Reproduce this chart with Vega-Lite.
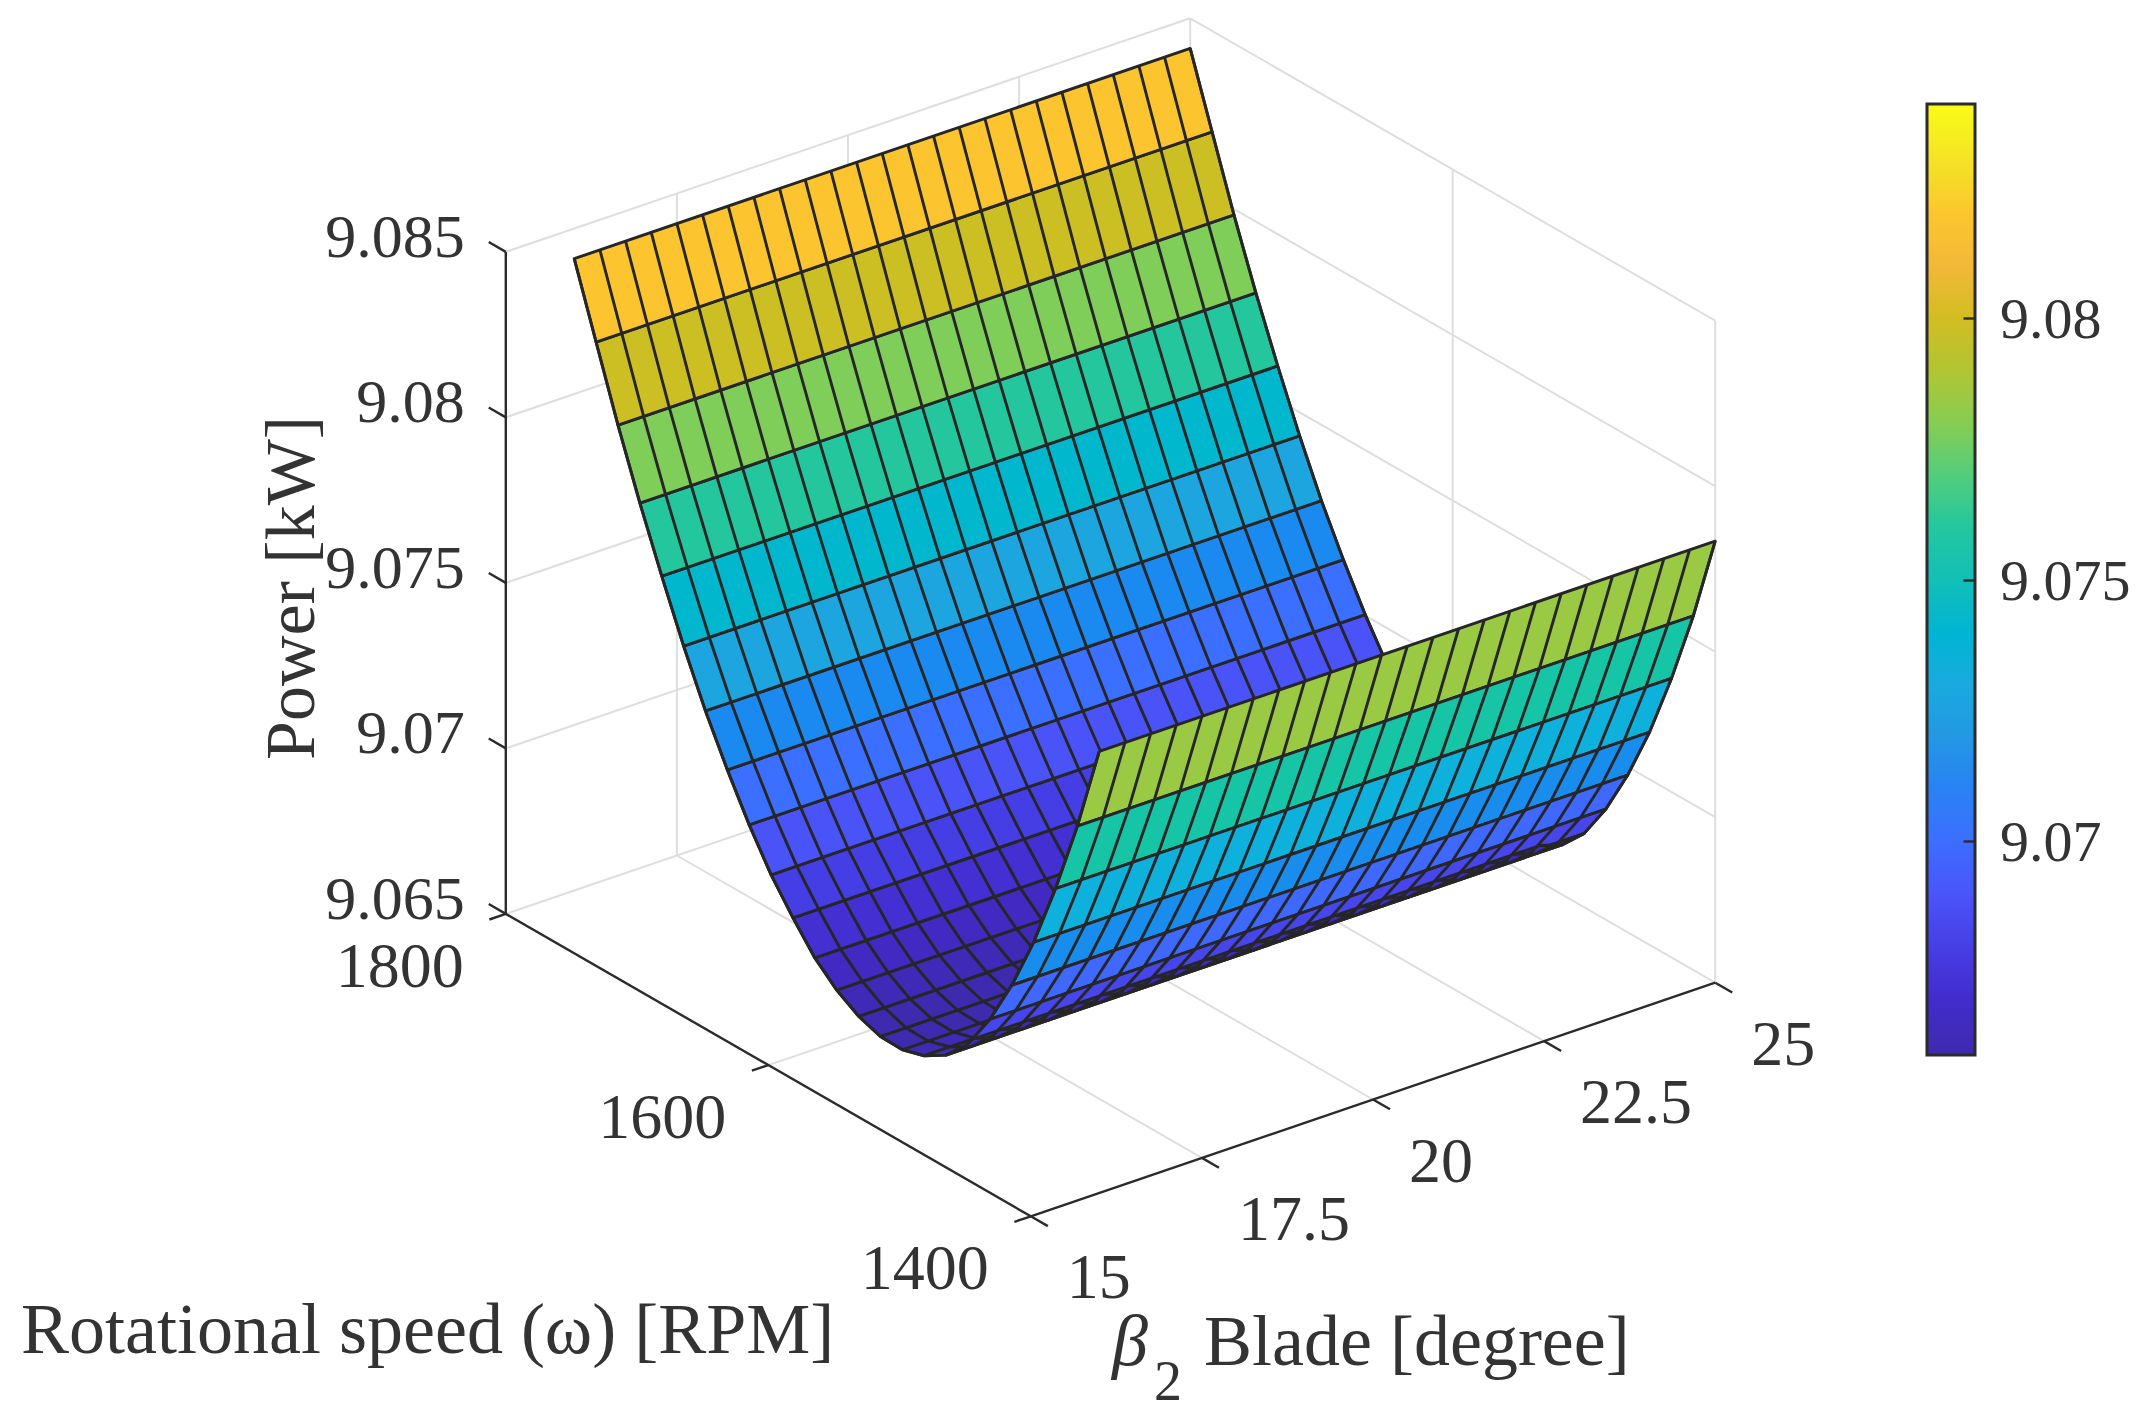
{"$schema":"https://vega.github.io/schema/vega-lite/v6.json","width":2155,"height":1427,"padding":0,"autosize":{"type":"none"},"background":"white","config":{"view":{"stroke":null},"text":{"font":"Liberation Serif","color":"#333333"}},
"resolve":{"scale":{"y":"independent"},"axis":{"y":"independent"}},
"datasets":{
"omegaNodes":[
{"grid":1,"omega":1400,"power":9.07834},{"grid":1,"omega":1416.67,"power":9.0757},{"grid":1,"omega":1433.33,"power":9.07343},{"grid":1,"omega":1450,"power":9.07143},{"grid":1,"omega":1466.67,"power":9.06975},{"grid":1,"omega":1483.33,"power":9.06834},{"grid":1,"omega":1500,"power":9.06722},{"grid":1,"omega":1516.67,"power":9.0665},{"grid":1,"omega":1533.33,"power":9.0661},{"grid":1,"omega":1550,"power":9.0659},{"grid":1,"omega":1566.67,"power":9.06592},{"grid":1,"omega":1583.33,"power":9.06615},{"grid":1,"omega":1600,"power":9.06656},{"grid":1,"omega":1616.67,"power":9.06715},{"grid":1,"omega":1633.33,"power":9.06798},{"grid":1,"omega":1650,"power":9.0689},{"grid":1,"omega":1666.67,"power":9.07003},{"grid":1,"omega":1683.33,"power":9.07131},{"grid":1,"omega":1700,"power":9.07271},{"grid":1,"omega":1716.67,"power":9.07429},{"grid":1,"omega":1733.33,"power":9.07602},{"grid":1,"omega":1750,"power":9.07785},{"grid":1,"omega":1766.67,"power":9.07982},{"grid":1,"omega":1783.33,"power":9.08195},{"grid":1,"omega":1800,"power":9.08409}],
"betaGrid":[{"grid":1,"beta":[16,16.375,16.75,17.125,17.5,17.875,18.25,18.625,19,19.375,19.75,20.125,20.5,20.875,21.25,21.625,22,22.375,22.75,23.125,23.5,23.875,24.25,24.625,25]}],
"corners":[{"grid":1,"corner":[0,1,2,3,4]}],
"gridLines":[
{"beta":15,"omega":1800,"power":9.065,"beta2":25,"omega2":1800,"power2":9.065},{"beta":15,"omega":1800,"power":9.07,"beta2":25,"omega2":1800,"power2":9.07},{"beta":15,"omega":1800,"power":9.075,"beta2":25,"omega2":1800,"power2":9.075},{"beta":15,"omega":1800,"power":9.08,"beta2":25,"omega2":1800,"power2":9.08},{"beta":15,"omega":1800,"power":9.085,"beta2":25,"omega2":1800,"power2":9.085},
{"beta":17.5,"omega":1800,"power":9.065,"beta2":17.5,"omega2":1800,"power2":9.085},{"beta":20,"omega":1800,"power":9.065,"beta2":20,"omega2":1800,"power2":9.085},{"beta":22.5,"omega":1800,"power":9.065,"beta2":22.5,"omega2":1800,"power2":9.085},{"beta":25,"omega":1800,"power":9.065,"beta2":25,"omega2":1800,"power2":9.085},
{"beta":25,"omega":1400,"power":9.065,"beta2":25,"omega2":1800,"power2":9.065},{"beta":25,"omega":1400,"power":9.07,"beta2":25,"omega2":1800,"power2":9.07},{"beta":25,"omega":1400,"power":9.075,"beta2":25,"omega2":1800,"power2":9.075},{"beta":25,"omega":1400,"power":9.08,"beta2":25,"omega2":1800,"power2":9.08},{"beta":25,"omega":1400,"power":9.085,"beta2":25,"omega2":1800,"power2":9.085},
{"beta":25,"omega":1400,"power":9.065,"beta2":25,"omega2":1400,"power2":9.085},{"beta":25,"omega":1600,"power":9.065,"beta2":25,"omega2":1600,"power2":9.085},
{"beta":17.5,"omega":1400,"power":9.065,"beta2":17.5,"omega2":1800,"power2":9.065},{"beta":20,"omega":1400,"power":9.065,"beta2":20,"omega2":1800,"power2":9.065},{"beta":22.5,"omega":1400,"power":9.065,"beta2":22.5,"omega2":1800,"power2":9.065},
{"beta":15,"omega":1600,"power":9.065,"beta2":25,"omega2":1600,"power2":9.065}],
"axisLines":[
{"beta":15,"omega":1800,"power":9.065,"beta2":15,"omega2":1800,"power2":9.085},{"beta":15,"omega":1400,"power":9.065,"beta2":15,"omega2":1800,"power2":9.065},{"beta":15,"omega":1400,"power":9.065,"beta2":25,"omega2":1400,"power2":9.065},
{"beta":15,"omega":1800,"power":9.065,"beta2":15,"omega2":1813,"power2":9.065},{"beta":15,"omega":1800,"power":9.07,"beta2":15,"omega2":1813,"power2":9.07},{"beta":15,"omega":1800,"power":9.075,"beta2":15,"omega2":1813,"power2":9.075},{"beta":15,"omega":1800,"power":9.08,"beta2":15,"omega2":1813,"power2":9.08},{"beta":15,"omega":1800,"power":9.085,"beta2":15,"omega2":1813,"power2":9.085},
{"beta":15,"omega":1400,"power":9.065,"beta2":14.76,"omega2":1400,"power2":9.065},{"beta":15,"omega":1600,"power":9.065,"beta2":14.76,"omega2":1600,"power2":9.065},{"beta":15,"omega":1800,"power":9.065,"beta2":14.76,"omega2":1800,"power2":9.065},
{"beta":15,"omega":1400,"power":9.065,"beta2":15,"omega2":1387,"power2":9.065},{"beta":17.5,"omega":1400,"power":9.065,"beta2":17.5,"omega2":1387,"power2":9.065},{"beta":20,"omega":1400,"power":9.065,"beta2":20,"omega2":1387,"power2":9.065},{"beta":22.5,"omega":1400,"power":9.065,"beta2":22.5,"omega2":1387,"power2":9.065},{"beta":25,"omega":1400,"power":9.065,"beta2":25,"omega2":1387,"power2":9.065}]
},
"encoding":{"x":{"field":"px","type":"quantitative","axis":null,"scale":{"domain":[0,2155],"nice":false,"zero":false}},"y":{"field":"py","type":"quantitative","axis":null,"scale":{"domain":[1427,0],"nice":false,"zero":false}}},
"layer":[
{"data":{"name":"gridLines"},"transform":[
{"calculate":"1030.8+(datum.beta-15)*68.44-(datum.omega-1400)*1.3125","as":"px"},{"calculate":"1216.3-(datum.beta-15)*23.36-(datum.omega-1400)*0.756-(datum.power-9.065)*33100","as":"py"},
{"calculate":"1030.8+(datum.beta2-15)*68.44-(datum.omega2-1400)*1.3125","as":"px2"},{"calculate":"1216.3-(datum.beta2-15)*23.36-(datum.omega2-1400)*0.756-(datum.power2-9.065)*33100","as":"py2"}],
"mark":{"type":"rule","stroke":"#dedede","strokeWidth":2},"encoding":{"x2":{"field":"px2"},"y2":{"field":"py2"}}},
{"data":{"name":"axisLines"},"transform":[
{"calculate":"1030.8+(datum.beta-15)*68.44-(datum.omega-1400)*1.3125","as":"px"},{"calculate":"1216.3-(datum.beta-15)*23.36-(datum.omega-1400)*0.756-(datum.power-9.065)*33100","as":"py"},
{"calculate":"1030.8+(datum.beta2-15)*68.44-(datum.omega2-1400)*1.3125","as":"px2"},{"calculate":"1216.3-(datum.beta2-15)*23.36-(datum.omega2-1400)*0.756-(datum.power2-9.065)*33100","as":"py2"}],
"mark":{"type":"rule","stroke":"#2b2b2b","strokeWidth":2.4},"encoding":{"x2":{"field":"px2"},"y2":{"field":"py2"}}},
{"data":{"name":"omegaNodes"},"transform":[
{"window":[{"op":"lead","field":"omega","as":"omegaUp"},{"op":"lead","field":"power","as":"powerUp"}],"sort":[{"field":"omega","order":"ascending"}]},
{"filter":"isValid(datum.omegaUp) && datum.omega>=1533"},
{"lookup":"grid","from":{"data":{"name":"corners"},"key":"grid","fields":["corner"]}},{"flatten":["corner"]},
{"calculate":"datum.corner==1||datum.corner==2?25:16","as":"b"},{"calculate":"datum.corner==2||datum.corner==3?datum.omegaUp:datum.omega","as":"w"},{"calculate":"datum.corner==2||datum.corner==3?datum.powerUp:datum.power","as":"z"},
{"calculate":"1030.8+(datum.b-15)*68.44-(datum.w-1400)*1.3125","as":"px"},{"calculate":"1216.3-(datum.b-15)*23.36-(datum.w-1400)*0.756-(datum.z-9.065)*33100","as":"py"}],
"mark":{"type":"line","stroke":"#262626","strokeWidth":2.9,"strokeJoin":"round"},
"encoding":{"detail":{"field":"omega"},"order":{"field":"corner","type":"ordinal"},"fill":{"field":"power","type":"quantitative","scale":{"domain":[9.0659,9.06674,9.06772,9.06899,9.07009,9.07091,9.07216,9.07325,9.0744,9.075,9.07689,9.07753,9.07846,9.08001,9.08106,9.08168,9.08228,9.08326,9.0841],"range":["#3d2aae","#4228c8","#4538e0","#4a55fa","#3b70ff","#2e80f5","#2b9be0","#19aede","#03b8cb","#12bfb7","#4ecc80","#6dd068","#a0c83f","#d2bd22","#f5b83a","#fdbb35","#fad028","#f3e826","#f8fb15"]},"legend":{"title":null,"orient":"none","legendX":1927,"legendY":104,"gradientLength":951,"gradientThickness":48,"gradientStrokeColor":"#2b2b2b","gradientStrokeWidth":3,"values":[9.07,9.075,9.08],"format":".4~r","labelFont":"Liberation Serif","labelFontSize":58,"labelColor":"#333333","labelOffset":25,"labelOverlap":false,"encode":{"labels":{"update":{"dy":{"value":3}}}}}}}},
{"data":{"name":"omegaNodes"},"transform":[{"filter":"datum.omega>=1533"},{"lookup":"grid","from":{"data":{"name":"betaGrid"},"key":"grid","fields":["beta"]}},{"flatten":["beta"]},
{"calculate":"1030.8+(datum.beta-15)*68.44-(datum.omega-1400)*1.3125","as":"px"},{"calculate":"1216.3-(datum.beta-15)*23.36-(datum.omega-1400)*0.756-(datum.power-9.065)*33100","as":"py"}],
"mark":{"type":"line","stroke":"#262626","strokeWidth":2.9},"encoding":{"detail":{"field":"beta"},"order":{"field":"omega","type":"quantitative"}}},
{"data":{"name":"omegaNodes"},"transform":[
{"window":[{"op":"lead","field":"omega","as":"omegaUp"},{"op":"lead","field":"power","as":"powerUp"}],"sort":[{"field":"omega","order":"ascending"}]},
{"filter":"isValid(datum.omegaUp) && datum.omega<1533"},
{"lookup":"grid","from":{"data":{"name":"corners"},"key":"grid","fields":["corner"]}},{"flatten":["corner"]},
{"calculate":"datum.corner==1||datum.corner==2?25:16","as":"b"},{"calculate":"datum.corner==2||datum.corner==3?datum.omegaUp:datum.omega","as":"w"},{"calculate":"datum.corner==2||datum.corner==3?datum.powerUp:datum.power","as":"z"},
{"calculate":"1030.8+(datum.b-15)*68.44-(datum.w-1400)*1.3125","as":"px"},{"calculate":"1216.3-(datum.b-15)*23.36-(datum.w-1400)*0.756-(datum.z-9.065)*33100","as":"py"}],
"mark":{"type":"line","stroke":"#262626","strokeWidth":2.9,"strokeJoin":"round"},
"encoding":{"detail":{"field":"omega"},"order":{"field":"corner","type":"ordinal"},"fill":{"field":"power","type":"quantitative"}}},
{"data":{"name":"omegaNodes"},"transform":[{"filter":"datum.omega<1534"},{"lookup":"grid","from":{"data":{"name":"betaGrid"},"key":"grid","fields":["beta"]}},{"flatten":["beta"]},
{"calculate":"1030.8+(datum.beta-15)*68.44-(datum.omega-1400)*1.3125","as":"px"},{"calculate":"1216.3-(datum.beta-15)*23.36-(datum.omega-1400)*0.756-(datum.power-9.065)*33100","as":"py"}],
"mark":{"type":"line","stroke":"#262626","strokeWidth":2.9},"encoding":{"detail":{"field":"beta"},"order":{"field":"omega","type":"quantitative"}}},
{"data":{"values":[{"beta":15,"omega":1800,"power":9.085,"label":"9.085"},{"beta":15,"omega":1800,"power":9.08,"label":"9.08"},{"beta":15,"omega":1800,"power":9.075,"label":"9.075"},{"beta":15,"omega":1800,"power":9.07,"label":"9.07"},{"beta":15,"omega":1800,"power":9.065,"label":"9.065"}]},
"transform":[{"calculate":"1030.8+(datum.beta-15)*68.44-(datum.omega-1400)*1.3125","as":"px"},{"calculate":"1216.3-(datum.beta-15)*23.36-(datum.omega-1400)*0.756-(datum.power-9.065)*33100","as":"py"}],
"mark":{"type":"text","align":"right","baseline":"middle","dx":-41,"dy":-14,"fontSize":62},"encoding":{"text":{"field":"label"}}},
{"data":{"values":[{"beta":15,"omega":1800,"power":9.065,"label":"1800"},{"beta":15,"omega":1600,"power":9.065,"label":"1600"},{"beta":15,"omega":1400,"power":9.065,"label":"1400"}]},
"transform":[{"calculate":"1030.8+(datum.beta-15)*68.44-(datum.omega-1400)*1.3125","as":"px"},{"calculate":"1216.3-(datum.beta-15)*23.36-(datum.omega-1400)*0.756-(datum.power-9.065)*33100","as":"py"}],
"mark":{"type":"text","align":"center","baseline":"middle","dx":-106,"dy":54,"fontSize":64},"encoding":{"text":{"field":"label"}}},
{"data":{"values":[{"beta":15,"omega":1400,"power":9.065,"label":"15"},{"beta":17.5,"omega":1400,"power":9.065,"label":"17.5"},{"beta":20,"omega":1400,"power":9.065,"label":"20"},{"beta":22.5,"omega":1400,"power":9.065,"label":"22.5"},{"beta":25,"omega":1400,"power":9.065,"label":"25"}]},
"transform":[{"calculate":"1030.8+(datum.beta-15)*68.44-(datum.omega-1400)*1.3125","as":"px"},{"calculate":"1216.3-(datum.beta-15)*23.36-(datum.omega-1400)*0.756-(datum.power-9.065)*33100","as":"py"}],
"mark":{"type":"text","align":"left","baseline":"middle","dx":36,"dy":63,"fontSize":64},"encoding":{"text":{"field":"label"}}},
{"data":{"values":[{"title":"Rotational speed (ω) [RPM]"}]},"mark":{"type":"text","align":"left","baseline":"alphabetic","fontSize":72},"encoding":{"x":{"value":21},"y":{"value":1353},"text":{"field":"title"}}},
{"data":{"values":[{"title":"Blade [degree]"}]},"mark":{"type":"text","align":"left","baseline":"alphabetic","fontSize":72},"encoding":{"x":{"value":1204},"y":{"value":1365},"text":{"field":"title"}}},
{"data":{"values":[{"title":"β"}]},"mark":{"type":"text","align":"left","baseline":"alphabetic","fontSize":72,"fontStyle":"italic"},"encoding":{"x":{"value":1112},"y":{"value":1365},"text":{"field":"title"}}},
{"data":{"values":[{"title":"2"}]},"mark":{"type":"text","align":"left","baseline":"alphabetic","fontSize":56},"encoding":{"x":{"value":1154},"y":{"value":1400},"text":{"field":"title"}}},
{"data":{"values":[{"title":"Power [kW]"}]},"mark":{"type":"text","align":"center","baseline":"middle","fontSize":70,"angle":270},"encoding":{"x":{"value":293},"y":{"value":588},"text":{"field":"title"}}},
{"data":{"values":[{"power":9.07},{"power":9.075},{"power":9.08}]},"mark":{"type":"point","opacity":0},"encoding":{"x":{"value":1951},"y":{"field":"power","type":"quantitative","scale":{"domain":[9.0659,9.0841],"range":[1055,104],"nice":false,"zero":false},"axis":{"orient":"left","offset":-1975,"values":[9.07,9.075,9.08],"labels":false,"domain":false,"grid":false,"title":null,"tickSize":12,"tickWidth":2.4,"tickColor":"#2b2b2b","zindex":1}}}}
]}
